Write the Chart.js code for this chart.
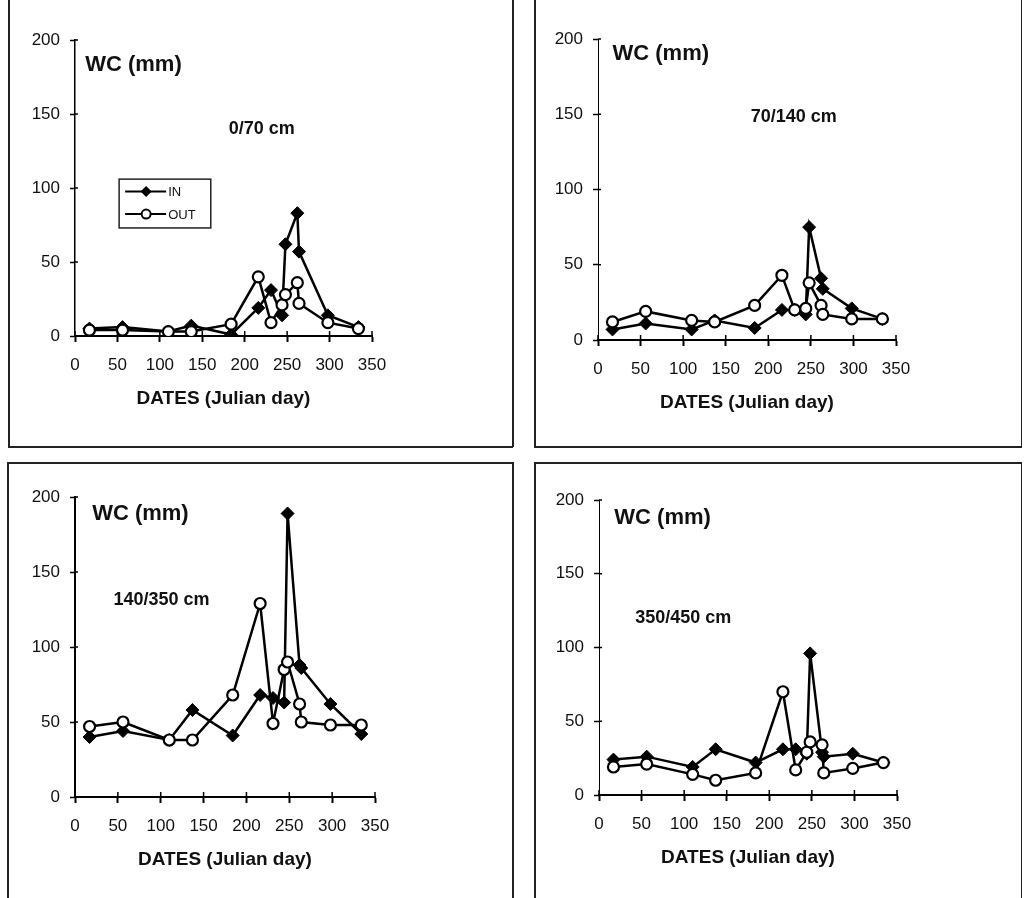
<!DOCTYPE html>
<html>
<head>
<meta charset="utf-8">
<script src="https://cdn.jsdelivr.net/npm/chart.js@4/dist/chart.umd.min.js"></script>
<style>
  body { margin: 0; background: #fff; width: 1024px; height: 898px; position: relative; overflow: hidden; }
  canvas { position: absolute; }
  .rule { position: absolute; background: #222; }
</style>
</head>
<body>
<script>
// sampling dates (Julian day), shared by every panel
const dates = [17, 56, 110, 137, 184, 216, 231, 244, 248, 262, 264, 298, 334];
const xTicks = [0, 50, 100, 150, 200, 250, 300, 350];
const yTicks = [0, 50, 100, 150, 200];
const seriesNames = ['IN', 'OUT'];
const depthNames = ['0/70 cm', '70/140 cm', '140/350 cm', '350/450 cm'];

// water content (mm) per depth layer
const in0_70    = [5, 6, 3, 7, 1, 19, 31, 14, 62, 83, 57, 14, 6];
const out0_70   = [4, 4, 3, 3, 8, 40, 9, 21, 28, 36, 22, 9, 5];
const in70_140  = [7, 11, 7, 13, 8, 20, 20, 17, 75, 41, 34, 21, 14];
const out70_140 = [12, 19, 13, 12, 23, 43, 20, 21, 38, 23, 17, 14, 14];
const in140_350  = [40, 44, 38, 58, 41, 68, 66, 63, 189, 88, 86, 62, 42];
const out140_350 = [47, 50, 38, 38, 68, 129, 49, 85, 90, 62, 50, 48, 48];
const in350_450  = [24, 26, 19, 31, 22, 31, 31, 28, 96, 29, 26, 28, 22];
const out350_450 = [19, 21, 14, 10, 15, 70, 17, 29, 36, 34, 15, 18, 22];

const FONT = '"Liberation Sans", Arial, sans-serif';
Chart.defaults.font.family = FONT;
Chart.defaults.color = '#111';

// frame lines around the four panels
[[8, 0, 1.5, 447], [512, 0, 1.5, 447], [8, 446, 505, 1.5],
 [534, 0, 1.5, 447], [1021, 0, 1, 447], [534, 446, 488, 1.5],
 [7, 462, 506, 1.5], [7, 462, 1.5, 436], [512, 462, 1.5, 436],
 [534, 462, 488, 1.5], [534, 462, 1.5, 436], [1021, 462, 1, 436]
].forEach(r => {
  const d = document.createElement('div');
  d.className = 'rule';
  d.style.left = r[0] + 'px'; d.style.top = r[1] + 'px';
  d.style.width = r[2] + 'px'; d.style.height = r[3] + 'px';
  document.body.appendChild(d);
});

// labels inside the plot: "WC (mm)", depth, and the legend box
const panelText = {
  id: 'panelText',
  afterDraw(chart, args, o) {
    const {ctx} = chart;
    const x = chart.scales.x, y = chart.scales.y;
    ctx.save();
    ctx.fillStyle = '#111';
    ctx.textBaseline = 'middle';
    ctx.textAlign = 'left';
    ctx.font = 'bold 22px ' + FONT;
    ctx.fillText('WC (mm)', x.getPixelForValue(o.wc[0]), y.getPixelForValue(o.wc[1]));
    ctx.textAlign = 'center';
    ctx.font = 'bold 18px ' + FONT;
    ctx.fillText(o.depth, x.getPixelForValue(o.depthAt[0]), y.getPixelForValue(o.depthAt[1]));

    // tick marks crossing into the plot, as on the original axes
    ctx.strokeStyle = '#000';
    ctx.lineWidth = 1.5;
    ctx.beginPath();
    xTicks.forEach(v => {
      const px = x.getPixelForValue(v);
      ctx.moveTo(px, y.bottom); ctx.lineTo(px, y.bottom - 5);
    });
    yTicks.forEach(v => {
      const py = y.getPixelForValue(v);
      ctx.moveTo(x.left, py); ctx.lineTo(x.left + 3, py);
    });
    ctx.stroke();

    if (o.legend) {
      const l = x.getPixelForValue(o.legend[0]), t = y.getPixelForValue(o.legend[1]);
      const r = x.getPixelForValue(o.legend[2]), b = y.getPixelForValue(o.legend[3]);
      ctx.strokeStyle = '#222';
      ctx.lineWidth = 1.5;
      ctx.strokeRect(l, t, r - l, b - t);
      ctx.font = '13px ' + FONT;
      ctx.textAlign = 'left';
      chart.data.datasets.forEach((ds, i) => {
        const yy = t + 12.5 + i * 22.5;
        ctx.strokeStyle = '#000';
        ctx.lineWidth = 2;
        ctx.beginPath(); ctx.moveTo(l + 6, yy); ctx.lineTo(l + 47, yy); ctx.stroke();
        const cx = l + 27;
        ctx.beginPath();
        if (ds.pointStyle === 'rectRot') {
          ctx.moveTo(cx, yy - 5.5); ctx.lineTo(cx + 5.5, yy); ctx.lineTo(cx, yy + 5.5); ctx.lineTo(cx - 5.5, yy);
          ctx.closePath(); ctx.fillStyle = '#000'; ctx.fill();
        } else {
          ctx.arc(cx, yy, 4.5, 0, Math.PI * 2);
          ctx.fillStyle = '#fff'; ctx.fill(); ctx.stroke();
        }
        ctx.fillStyle = '#111';
        ctx.fillText(ds.label, l + 49, yy + 1);
      });
    }
    ctx.restore();
  }
};

const panels = [
  {box: [9, 0, 502, 446],   area: [75, 40, 372, 336],  inV: in0_70,    outV: out0_70,    depth: depthNames[0],
   wc: [12, 183], depthAt: [220, 140], legend: [52, 106, 160, 73], yw: 1.5},
  {box: [535, 0, 486, 446], area: [598, 39, 896, 340], inV: in70_140,  outV: out70_140,  depth: depthNames[1],
   wc: [17, 190], depthAt: [230, 148], yw: 1},
  {box: [8, 463, 504, 435], area: [75, 497, 375, 797], inV: in140_350, outV: out140_350, depth: depthNames[2],
   wc: [20, 189], depthAt: [101, 131], yw: 2},
  {box: [535, 463, 486, 435], area: [599, 500, 897, 795], inV: in350_450, outV: out350_450, depth: depthNames[3],
   wc: [18, 188], depthAt: [99, 120], yw: 1}
];

panels.forEach(p => {
  const cv = document.createElement('canvas');
  cv.width = p.box[2]; cv.height = p.box[3];
  cv.style.left = p.box[0] + 'px'; cv.style.top = p.box[1] + 'px';
  document.body.appendChild(cv);

  const L = p.area[0] - p.box[0], T = p.area[1] - p.box[1];
  const R = p.area[2] - p.box[0], B = p.area[3] - p.box[1];
  const titlePad = (p.box[3] - B) - 63 - 19 * 1.2 / 2;

  new Chart(cv, {
    type: 'scatter',
    data: {
      datasets: [
        {label: seriesNames[0], data: dates.map((d, i) => ({x: d, y: p.inV[i]})), showLine: true,
         borderColor: '#000', borderWidth: 2.5, pointStyle: 'rectRot', pointRadius: 6.5,
         pointBackgroundColor: '#000', pointBorderColor: '#000', pointBorderWidth: 1, order: 1},
        {label: seriesNames[1], data: dates.map((d, i) => ({x: d, y: p.outV[i]})), showLine: true,
         borderColor: '#000', borderWidth: 2.5, pointStyle: 'circle', pointRadius: 5.5,
         pointBackgroundColor: '#fff', pointBorderColor: '#000', pointBorderWidth: 2.2, order: 0}
      ]
    },
    options: {
      responsive: false,
      animation: false,
      devicePixelRatio: 1,
      layout: {padding: {top: T, right: cv.width - R, left: 0, bottom: 0}},
      plugins: {
        legend: {display: false},
        tooltip: {enabled: false},
        panelText: {wc: p.wc, depth: p.depth, depthAt: p.depthAt, legend: p.legend}
      },
      scales: {
        x: {
          type: 'linear', min: 0, max: 350,
          afterBuildTicks: s => { s.ticks = xTicks.map(v => ({value: v})); },
          afterFit: s => { s.height = cv.height - B; },
          grid: {drawOnChartArea: false, tickLength: 6, tickWidth: 2, tickColor: '#000'},
          border: {width: 2, color: '#000'},
          ticks: {padding: 13, font: {size: 17}, maxRotation: 0, autoSkip: false},
          title: {display: true, text: 'DATES (Julian day)', font: {size: 19, weight: 'bold'},
                  padding: {top: 0, bottom: titlePad}}
        },
        y: {
          type: 'linear', min: 0, max: 200,
          afterBuildTicks: s => { s.ticks = yTicks.map(v => ({value: v})); },
          afterFit: s => { s.width = L; },
          grid: {drawOnChartArea: false, tickLength: 5, tickWidth: 1.5, tickColor: '#000'},
          border: {width: p.yw, color: '#000'},
          ticks: {padding: 10, font: {size: 17}}
        }
      }
    },
    plugins: [panelText]
  });
});
</script>
</body>
</html>
